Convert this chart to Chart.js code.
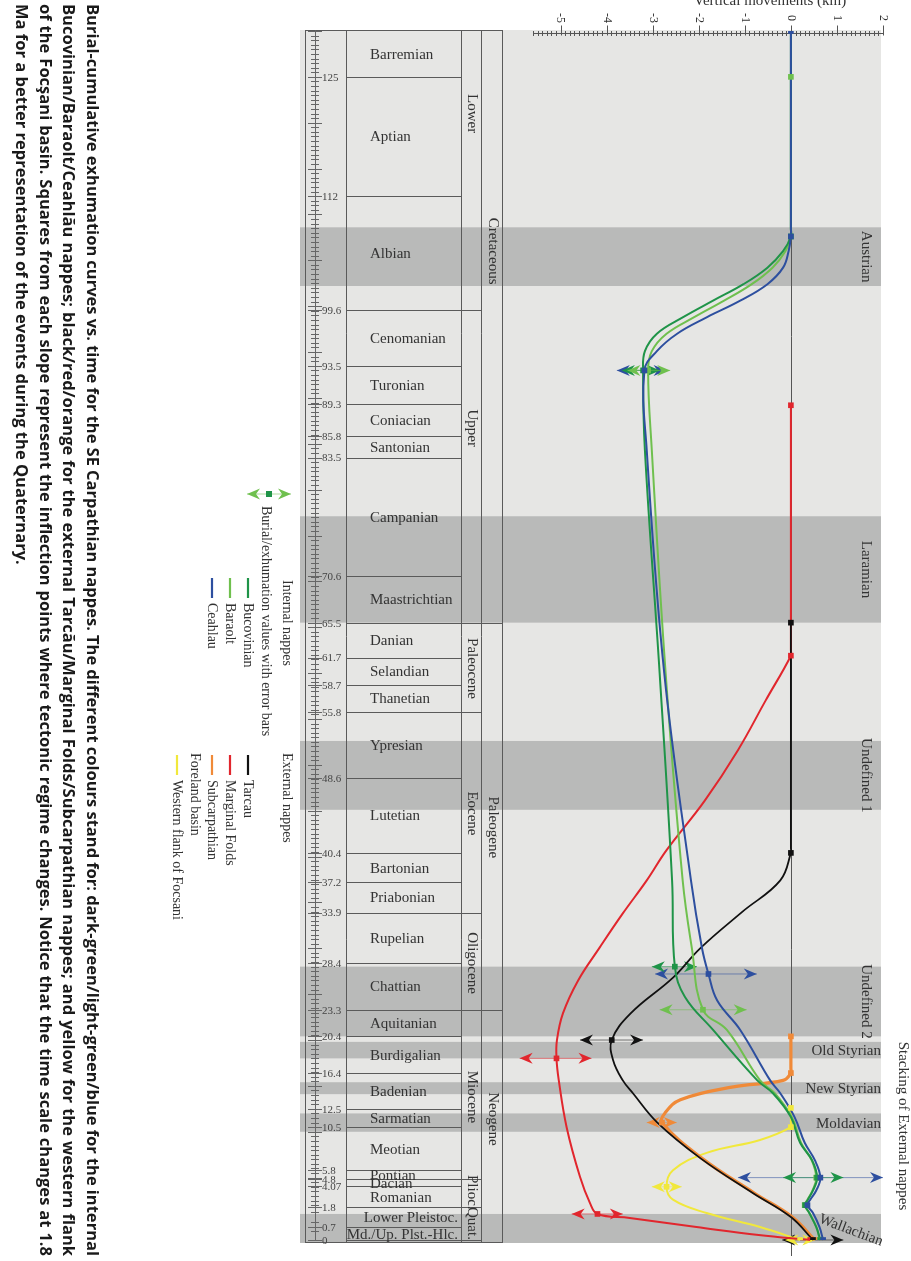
<!DOCTYPE html>
<html>
<head>
<meta charset="utf-8">
<title>Burial-cumulative exhumation curves, SE Carpathian nappes</title>
<script src="https://cdn.jsdelivr.net/npm/chart.js@4.4.1/dist/chart.umd.min.js"></script>
<style>
  html, body { margin: 0; padding: 0; background: #fff; }
  #wrap { position: relative; width: 911px; height: 1261px; }
</style>
</head>
<body>
<div id="wrap"><canvas id="c" width="911" height="1261"></canvas></div>
<script>
// ---------------- time axis (Ma), with a stretched Quaternary ----------------
const AGE_MAX = 130;
const QUAT_BREAK = 1.8;                 // below 1.8 Ma the time scale is doubled
const tp = t => (t > QUAT_BREAK ? t + QUAT_BREAK : 2 * t);

const KM_MIN = -5.6, KM_MAX = 2.0;
const kmTicks = [-5, -4, -3, -2, -1, 0, 1, 2];

// ---------------- stratigraphy ----------------
const ageTicks = [125, 112, 99.6, 93.5, 89.3, 85.8, 83.5, 70.6, 65.5, 61.7, 58.7, 55.8, 48.6,
  40.4, 37.2, 33.9, 28.4, 23.3, 20.4, 16.4, 12.5, 10.5, 5.8, 4.8, 4.07, 1.8, 0.7, 0];
const ageTickLabels = ['125', '112', '99.6', '93.5', '89.3', '85.8', '83.5', '70.6', '65.5', '61.7',
  '58.7', '55.8', '48.6', '40.4', '37.2', '33.9', '28.4', '23.3', '20.4', '16.4', '12.5', '10.5',
  '5.8', '4.8', '4.07', '1.8', '0.7', '0'];

const stageNames = ['Barremian', 'Aptian', 'Albian', 'Cenomanian', 'Turonian', 'Coniacian', 'Santonian',
  'Campanian', 'Maastrichtian', 'Danian', 'Selandian', 'Thanetian', 'Ypresian', 'Lutetian', 'Bartonian',
  'Priabonian', 'Rupelian', 'Chattian', 'Aquitanian', 'Burdigalian', 'Badenian', 'Sarmatian', 'Meotian',
  'Pontian', 'Dacian', 'Romanian', 'Lower Pleistoc.', 'Md./Up. Plst.-Hlc.'];
const stageBase = [130, 125, 112, 99.6, 93.5, 89.3, 85.8, 83.5, 70.6, 65.5, 61.7, 58.7, 55.8, 48.6, 40.4,
  37.2, 33.9, 28.4, 23.3, 20.4, 16.4, 12.5, 10.5, 5.8, 4.8, 4.07, 1.8, 0.7];
const stageTop = [125, 112, 99.6, 93.5, 89.3, 85.8, 83.5, 70.6, 65.5, 61.7, 58.7, 55.8, 48.6, 40.4, 37.2,
  33.9, 28.4, 23.3, 20.4, 16.4, 12.5, 10.5, 5.8, 4.8, 4.07, 1.8, 0.7, 0];

const epochNames = ['Lower', 'Upper', 'Paleocene', 'Eocene', 'Oligocene', 'Miocene', 'Plioc.', 'Quat.'];
const epochBase = [130, 99.6, 65.5, 55.8, 33.9, 23.3, 4.8, 1.8];
const epochLabelAge = [121, 86.7, 60.5, 44.7, 28.4, 13.8, 3.4, 0.9];

const periodNames = ['Cretaceous', 'Paleogene', 'Neogene'];
const periodBase = [130, 65.5, 23.3];
const periodLabelAge = [106, 43.2, 11.4];

// ---------------- tectonic events ----------------
const eventNames = ['Austrian', 'Laramian', 'Undefined 1', 'Undefined 2', 'Old Styrian', 'New Styrian', 'Moldavian', 'Wallachian'];
const eventFrom = [108.6, 77.1, 52.6, 28.0, 19.8, 15.4, 12.0, 1.42];
const eventTo = [102.2, 65.5, 45.1, 20.4, 18.0, 14.1, 10.0, 0];

// ---------------- internal nappes ----------------
const ceahlauAge = [130, 108.5, 107.6, 106.0, 104.2, 102.4, 100.6, 98.8, 97.0, 95.1, 93.0, 84.3, 60, 37.4, 30.0, 27.2, 24.3, 21.1, 15.6, 14.2, 11.6, 8.8, 6.9, 5.0, 3.6, 2.6, 2.0, 1.47, 0.71, 0];
const ceahlauKm = [0, 0, 0, -0.05, -0.17, -0.51, -1.10, -1.82, -2.47, -2.91, -3.18, -3.13, -2.75, -2.17, -1.93, -1.79, -1.60, -1.10, -0.45, -0.23, 0.08, 0.30, 0.52, 0.64, 0.55, 0.42, 0.36, 0.48, 0.62, 0.70];
const bucovinianAge = [130, 108.5, 107.6, 106.0, 104.2, 102.4, 100.6, 98.8, 97.0, 95.1, 93.0, 84.3, 60, 37.4, 28.0, 24.7, 21.1, 15.6, 14.2, 11.6, 8.8, 6.9, 5.0, 3.6, 2.6, 2.0, 1.47, 0.71, 0];
const bucovinianKm = [0, 0, 0, -0.17, -0.51, -1.03, -1.69, -2.34, -2.91, -3.17, -3.21, -3.17, -2.85, -2.58, -2.52, -2.30, -1.69, -0.73, -0.39, 0.0, 0.20, 0.46, 0.57, 0.48, 0.37, 0.31, 0.40, 0.55, 0.64];
const baraoltAge = [125, 108.5, 107.6, 106.0, 104.2, 102.4, 100.6, 98.8, 97.0, 95.1, 93.0, 84.3, 60, 37.4, 30.0, 23.3, 21.1, 15.6, 14.2, 11.6, 8.8, 6.9, 5.0, 3.6, 2.6, 2.0, 1.47, 0.71, 0];
const baraoltKm = [0, 0, 0, -0.12, -0.40, -0.85, -1.45, -2.10, -2.70, -3.02, -3.10, -3.02, -2.72, -2.35, -2.15, -1.91, -1.39, -0.67, -0.35, 0.02, 0.22, 0.45, 0.55, 0.47, 0.36, 0.30, 0.40, 0.55, 0.63];

// ---------------- external nappes ----------------
const tarcauAge = [65.5, 41.0, 40.4, 37.4, 34.0, 30.0, 26.8, 22.9, 20.0, 17.8, 15.6, 14.2, 11.0, 7.1, 3.3, 1.25, 0];
const tarcauKm = [0, 0, 0, -0.23, -1.05, -1.97, -2.56, -3.48, -3.89, -3.86, -3.65, -3.43, -2.90, -1.96, -0.82, 0.0, 0.48];
const marginalAge = [89.2, 62.5, 61.9, 57.0, 51.6, 46.1, 40.7, 37.4, 33.8, 30.1, 26.5, 22.9, 20.0, 18.0, 15.6, 10.5, 5.1, 2.2, 1.42, 1.2, 0.71, 0.27, 0];
const marginalKm = [0, 0, 0, -0.55, -1.15, -1.87, -2.70, -3.13, -3.65, -4.15, -4.62, -4.95, -5.08, -5.09, -5.04, -4.87, -4.58, -4.36, -4.20, -3.50, -2.05, -0.70, 0.42];
const subcarpAge = [20.4, 16.9, 16.4, 15.6, 14.9, 13.5, 12.0, 11.0, 7.1, 3.3, 1.25, 0];
const subcarpKm = [0, 0, 0, -0.17, -1.25, -2.40, -2.74, -2.80, -1.93, -0.79, 0.03, 0.52];

// ---------------- foreland basin ----------------
const focsaniAge = [12.6, 11.0, 10.5, 9.1, 7.7, 5.8, 4.0, 2.6, 1.47, 0.71, 0];
const focsaniKm = [0, 0, 0, -0.67, -1.83, -2.56, -2.70, -2.56, -1.83, -0.67, 0.20];

// ---------------- inflection points (squares) ----------------
const ceahlauMarkAge = [130, 107.6, 93.0, 27.2, 5.0, 2.0, 0];
const ceahlauMarkKm = [0, 0, -3.18, -1.79, 0.64, 0.36, 0.70];
const bucovinianMarkAge = [107.6, 93.0, 28.0, 5.0, 2.0, 0];
const bucovinianMarkKm = [0, -3.21, -2.52, 0.57, 0.31, 0.64];
const baraoltMarkAge = [125, 93.0, 23.3, 5.0, 2.0, 0];
const baraoltMarkKm = [0, -3.10, -1.91, 0.55, 0.30, 0.63];
const tarcauMarkAge = [65.5, 40.4, 20.0, 0];
const tarcauMarkKm = [0, 0, -3.89, 0.48];
const marginalMarkAge = [89.2, 61.9, 18.0, 1.42, 0];
const marginalMarkKm = [0, 0, -5.09, -4.20, 0.42];
const subcarpMarkAge = [20.4, 16.4, 11.0, 0];
const subcarpMarkKm = [0, 0, -2.80, 0.52];
const focsaniMarkAge = [12.6, 10.5, 4.0, 0];
const focsaniMarkKm = [0, 0, -2.70, 0.20];

// ---------------- burial/exhumation error bars ----------------
const ceahlauBarAge = [93.0, 27.2, 5.0];
const ceahlauBarLo = [-3.78, -2.95, -1.15];
const ceahlauBarHi = [-2.70, -0.74, 2.0];
const bucovinianBarAge = [93.0, 28.0, 5.0];
const bucovinianBarLo = [-3.67, -3.02, -0.17];
const bucovinianBarHi = [-2.84, -2.04, 1.14];
const baraoltBarAge = [93.0, 23.3];
const baraoltBarLo = [-3.55, -2.85];
const baraoltBarHi = [-2.62, -0.96];
const tarcauBarAge = [20.0, 0];
const tarcauBarLo = [-4.58, -0.19];
const tarcauBarHi = [-3.21, 1.14];
const marginalBarAge = [18.0, 1.42];
const marginalBarLo = [-5.89, -4.76];
const marginalBarHi = [-4.33, -3.65];
const subcarpBarAge = [11.0];
const subcarpBarLo = [-3.13];
const subcarpBarHi = [-2.48];
const focsaniBarAge = [4.0, 0];
const focsaniBarLo = [-3.02, -0.12];
const focsaniBarHi = [-2.37, 0.53];

const captionLines = [
  'Burial-cumulative exhumation curves vs. time for the SE Carpathian nappes. The different colours stand for: dark-green/light-green/blue for the internal',
  'Bucovinian/Baraolt/Ceahlău nappes; black/red/orange for the external Tarcău/Marginal Folds/Subcarpathian nappes; and yellow for the western flank',
  'of the Focşani basin. Squares from each slope represent the inflection points where tectonic regime changes. Notice that the time scale changes at 1.8',
  'Ma for a better representation of the events during the Quaternary.'
];

// ---------------- colours & series table ----------------
const C = {
  blue: '#2d4f9f', dgreen: '#1f9448', lgreen: '#6fc04e', black: '#111111',
  red: '#e1262d', orange: '#f08a38', yellow: '#f1e83c'
};
const series = [
  { name: 'Ceahlau', color: C.blue, width: 2, age: ceahlauAge, km: ceahlauKm, mAge: ceahlauMarkAge, mKm: ceahlauMarkKm, bAge: ceahlauBarAge, bLo: ceahlauBarLo, bHi: ceahlauBarHi },
  { name: 'Bucovinian', color: C.dgreen, width: 2, age: bucovinianAge, km: bucovinianKm, mAge: bucovinianMarkAge, mKm: bucovinianMarkKm, bAge: bucovinianBarAge, bLo: bucovinianBarLo, bHi: bucovinianBarHi },
  { name: 'Baraolt', color: C.lgreen, width: 2, age: baraoltAge, km: baraoltKm, mAge: baraoltMarkAge, mKm: baraoltMarkKm, bAge: baraoltBarAge, bLo: baraoltBarLo, bHi: baraoltBarHi },
  { name: 'Tarcau', color: C.black, width: 1.8, age: tarcauAge, km: tarcauKm, mAge: tarcauMarkAge, mKm: tarcauMarkKm, bAge: tarcauBarAge, bLo: tarcauBarLo, bHi: tarcauBarHi },
  { name: 'Marginal Folds', color: C.red, width: 2, age: marginalAge, km: marginalKm, mAge: marginalMarkAge, mKm: marginalMarkKm, bAge: marginalBarAge, bLo: marginalBarLo, bHi: marginalBarHi },
  { name: 'Subcarpathian', color: C.orange, width: 3.2, age: subcarpAge, km: subcarpKm, mAge: subcarpMarkAge, mKm: subcarpMarkKm, bAge: subcarpBarAge, bLo: subcarpBarLo, bHi: subcarpBarHi },
  { name: 'Western flank of Focsani', color: C.yellow, width: 2, age: focsaniAge, km: focsaniKm, mAge: focsaniMarkAge, mKm: focsaniMarkKm, bAge: focsaniBarAge, bLo: focsaniBarLo, bHi: focsaniBarHi }
];

const toPts = (ages, kms) => ages.map((a, i) => ({ x: kms[i], y: tp(a) }));

const datasets = [];
series.forEach(s => {
  datasets.push({
    type: 'scatter', label: s.name + ' inflection', data: toPts(s.mAge, s.mKm),
    pointStyle: 'rect', pointRadius: 4, backgroundColor: s.color, borderColor: s.color,
    borderWidth: 0, order: 0
  });
});
series.forEach(s => {
  datasets.push({
    type: 'line', label: s.name, data: toPts(s.age, s.km),
    borderColor: s.color, borderWidth: s.width, pointRadius: 0, fill: false,
    tension: 0.4, order: 1, clip: 6
  });
});

// ---------------- layout of the page ----------------
const SERIF = '"Liberation Serif", "DejaVu Serif", serif';
const PANEL = { left: 300, right: 881, top: 30, bottom: 1243 };
const TABLE = { left: 305, ruler: 315, stage: 346, epoch: 461, period: 481, right: 502 };
const CW = Math.PI / 2;

function rtext(ctx, s, x, y, align, baseline, angle) {
  ctx.save();
  ctx.translate(x, y);
  ctx.rotate(angle);
  ctx.textAlign = align;
  ctx.textBaseline = baseline;
  ctx.fillText(s, 0, 0);
  ctx.restore();
}

function arrowHead(ctx, tipX, y, dir, color) {
  const L = 13, W = 5.5, notch = 4;
  ctx.fillStyle = color;
  ctx.beginPath();
  ctx.moveTo(tipX, y);
  ctx.lineTo(tipX - dir * L, y - W);
  ctx.lineTo(tipX - dir * (L - notch), y);
  ctx.lineTo(tipX - dir * L, y + W);
  ctx.closePath();
  ctx.fill();
}

function errorBar(ctx, x0, x1, y, color) {
  ctx.save();
  ctx.strokeStyle = color;
  ctx.globalAlpha = 0.55;
  ctx.lineWidth = 1;
  ctx.beginPath();
  ctx.moveTo(x0, y); ctx.lineTo(x1, y);
  ctx.stroke();
  ctx.globalAlpha = 1;
  arrowHead(ctx, x0, y, -1, color);
  arrowHead(ctx, x1, y, 1, color);
  ctx.restore();
}

function drawJustified(ctx, text, x, y0, len, justify) {
  const words = text.split(' ');
  const widths = words.map(w => ctx.measureText(w).width);
  const total = widths.reduce((a, b) => a + b, 0);
  const space = ctx.measureText(' ').width;
  const gap = justify && words.length > 1 ? (len - total) / (words.length - 1) : space;
  ctx.save();
  ctx.translate(x, y0);
  ctx.rotate(CW);
  ctx.textAlign = 'left';
  ctx.textBaseline = 'middle';
  let pos = 0;
  words.forEach((w, i) => { ctx.fillText(w, pos, 0); pos += widths[i] + gap; });
  ctx.restore();
}

const figurePlugin = {
  id: 'figure',
  beforeDraw(chart) {
    const ctx = chart.ctx;
    ctx.save();
    ctx.fillStyle = '#ffffff';
    ctx.fillRect(0, 0, chart.width, chart.height);
    ctx.restore();
  },
  beforeDatasetsDraw(chart) {
    const ctx = chart.ctx;
    const ys = chart.scales.y, xs = chart.scales.x;
    const Y = t => ys.getPixelForValue(tp(t));
    const X = v => xs.getPixelForValue(v);
    ctx.save();

    // panel and event bands
    ctx.fillStyle = '#e6e6e4';
    ctx.fillRect(PANEL.left, PANEL.top, PANEL.right - PANEL.left, PANEL.bottom - PANEL.top);
    ctx.fillStyle = '#b9bab9';
    eventNames.forEach((n, i) => {
      const y0 = Y(eventFrom[i]);
      const y1 = eventTo[i] === 0 ? PANEL.bottom : Y(eventTo[i]);
      ctx.fillRect(PANEL.left, y0, PANEL.right - PANEL.left, y1 - y0);
    });

    // stratigraphic table
    ctx.strokeStyle = '#5a5a5a';
    ctx.lineWidth = 1;
    ctx.strokeRect(TABLE.left + 0.5, PANEL.top + 0.5, TABLE.right - TABLE.left, PANEL.bottom - PANEL.top - 1);
    ctx.beginPath();
    [TABLE.stage, TABLE.epoch, TABLE.period].forEach(x => {
      ctx.moveTo(x + 0.5, PANEL.top); ctx.lineTo(x + 0.5, PANEL.bottom);
    });
    ctx.stroke();
    ctx.beginPath();
    stageBase.forEach((b, i) => {
      if (i === 0) return;
      const y = Math.round(Y(b)) + 0.5;
      let right = TABLE.epoch;
      if (epochBase.includes(b)) right = TABLE.period;
      if (periodBase.includes(b)) right = TABLE.right;
      ctx.moveTo(TABLE.stage, y); ctx.lineTo(right, y);
    });
    ctx.moveTo(TABLE.stage, Math.round(Y(0)) + 0.5); ctx.lineTo(TABLE.period, Math.round(Y(0)) + 0.5);
    ctx.stroke();

    // time ruler
    ctx.strokeStyle = '#666';
    ctx.beginPath();
    ctx.moveTo(TABLE.ruler + 0.5, PANEL.top); ctx.lineTo(TABLE.ruler + 0.5, Y(0));
    for (let k = 0; k <= AGE_MAX * 2; k++) {
      const t = k / 2;
      const y = Math.round(Y(t)) + 0.5;
      const major = k % 10 === 0;
      ctx.moveTo(TABLE.ruler - (major ? 7 : 4), y);
      ctx.lineTo(TABLE.ruler + (major ? 7 : 4), y);
    }
    ctx.stroke();
    ctx.fillStyle = '#444';
    ctx.font = '11px ' + SERIF;
    ctx.textAlign = 'left';
    ctx.textBaseline = 'middle';
    ageTicks.forEach((t, i) => {
      const y = Y(t);
      ctx.beginPath();
      ctx.moveTo(TABLE.ruler - 7, Math.round(y) + 0.5); ctx.lineTo(TABLE.ruler + 7, Math.round(y) + 0.5);
      ctx.stroke();
      ctx.fillText(ageTickLabels[i], TABLE.ruler + 7, y + 1);
    });

    // stage names
    ctx.fillStyle = '#333';
    ctx.font = '15px ' + SERIF;
    ctx.textBaseline = 'middle';
    stageNames.forEach((n, i) => {
      const yc = (Y(stageBase[i]) + Y(stageTop[i])) / 2;
      const w = ctx.measureText(n).width;
      ctx.fillText(n, Math.min(370, TABLE.epoch - 3 - w), yc + 1);
    });
    epochNames.forEach((n, i) => rtext(ctx, n, (TABLE.epoch + TABLE.period) / 2 + 1, Y(epochLabelAge[i]), 'center', 'middle', CW));
    periodNames.forEach((n, i) => rtext(ctx, n, (TABLE.period + TABLE.right) / 2 + 1, Y(periodLabelAge[i]), 'center', 'middle', CW));

    // event names
    ctx.fillStyle = '#333';
    ctx.font = '15px ' + SERIF;
    eventNames.forEach((n, i) => {
      const y0 = Y(eventFrom[i]);
      const y1 = eventTo[i] === 0 ? PANEL.bottom : Y(eventTo[i]);
      const yc = (y0 + y1) / 2;
      if (eventTo[i] === 0) {
        rtext(ctx, n, 851, yc + 2, 'center', 'middle', 0.36);
      } else if (y1 - y0 > 40) {
        rtext(ctx, n, 866, yc, 'center', 'middle', CW);
      } else {
        ctx.textAlign = 'right';
        ctx.textBaseline = 'middle';
        ctx.fillText(n, PANEL.right, yc + 1);
      }
    });
    rtext(ctx, 'Stacking of External nappes', 903, 1126, 'center', 'middle', CW);

    // zero line
    const x0 = Math.round(X(0)) + 0.5;
    ctx.strokeStyle = '#555';
    ctx.lineWidth = 1;
    ctx.beginPath();
    ctx.moveTo(x0, PANEL.top); ctx.lineTo(x0, 1256);
    ctx.stroke();

    // vertical movements axis (top)
    const ay = PANEL.top + 3.5;
    ctx.strokeStyle = '#555';
    ctx.beginPath();
    ctx.moveTo(X(KM_MIN), ay); ctx.lineTo(X(KM_MAX), ay);
    for (let k = Math.round(KM_MIN * 10); k <= Math.round(KM_MAX * 10); k++) {
      const x = Math.round(X(k / 10)) + 0.5;
      if (k % 10 === 0) { ctx.moveTo(x, ay - 8); ctx.lineTo(x, ay + 2); }
      else { ctx.moveTo(x, ay - 2.5); ctx.lineTo(x, ay + 2.5); }
    }
    ctx.stroke();
    ctx.fillStyle = '#333';
    ctx.font = '12px ' + SERIF;
    kmTicks.forEach(v => rtext(ctx, String(v), X(v), 18, 'center', 'middle', CW));
    ctx.font = '15px ' + SERIF;
    ctx.textAlign = 'center';
    ctx.textBaseline = 'alphabetic';
    ctx.fillText('Vertical movements (km)', 770, 5);

    // error bars
    series.forEach(s => {
      s.bAge.forEach((a, i) => errorBar(ctx, X(s.bLo[i]), X(s.bHi[i]), Y(a), s.color));
    });
    ctx.restore();
  },
  afterDraw(chart) {
    const ctx = chart.ctx;
    ctx.save();
    // legend
    ctx.fillStyle = '#333';
    ctx.font = '14px ' + SERIF;
    errorBar(ctx, 247, 291, 494, C.lgreen);
    ctx.fillStyle = C.dgreen;
    ctx.fillRect(266, 491, 6, 6);
    ctx.fillStyle = '#333';
    rtext(ctx, 'Burial/exhumation values with error bars', 266, 506, 'left', 'middle', CW);

    // legend groups: [x of entry, series index]
    const groups = [
      { title: 'Internal nappes', tx: 287, top: 580, lineTop: 578, items: [[248, 1], [230, 2], [212, 0]] },
      { title: 'External nappes', tx: 287, top: 753, lineTop: 755, items: [[248, 3], [230, 4], [212, 5]] },
      { title: 'Foreland basin', tx: 195, top: 753, lineTop: 755, items: [[177, 6]] }
    ];
    groups.forEach(g => {
      ctx.fillStyle = '#333';
      rtext(ctx, g.title, g.tx, g.top, 'left', 'middle', CW);
      g.items.forEach(([x, idx]) => {
        const s = series[idx];
        ctx.strokeStyle = s.color;
        ctx.lineWidth = 2.2;
        ctx.beginPath();
        ctx.moveTo(x, g.lineTop); ctx.lineTo(x, g.lineTop + 20);
        ctx.stroke();
        ctx.fillStyle = '#333';
        rtext(ctx, s.name, x, g.lineTop + 25, 'left', 'middle', CW);
      });
    });

    // caption, justified, rotated
    ctx.fillStyle = '#1a1a1a';
    let size = 14;
    ctx.font = 'bold ' + size + 'px "Open Sans", "DejaVu Sans", sans-serif';
    const natural = ctx.measureText(captionLines[3]).width;
    size = 14 * 561 / natural;
    ctx.font = 'bold ' + size.toFixed(2) + 'px "Open Sans", "DejaVu Sans", sans-serif';
    const capX = [91.5, 68, 44.5, 21];
    captionLines.forEach((line, i) => drawJustified(ctx, line, capX[i], 4, 1252, i < 3));
    ctx.restore();
  }
};

new Chart(document.getElementById('c'), {
  type: 'scatter',
  data: { datasets },
  options: {
    responsive: false,
    animation: false,
    events: [],
    layout: { padding: { left: 533, right: 28, top: 31, bottom: 21 } },
    scales: {
      x: { type: 'linear', min: KM_MIN, max: KM_MAX, display: false },
      y: { type: 'linear', min: 0, max: tp(AGE_MAX), display: false }
    },
    plugins: { legend: { display: false }, tooltip: { enabled: false } }
  },
  plugins: [figurePlugin]
});
</script>
</body>
</html>
